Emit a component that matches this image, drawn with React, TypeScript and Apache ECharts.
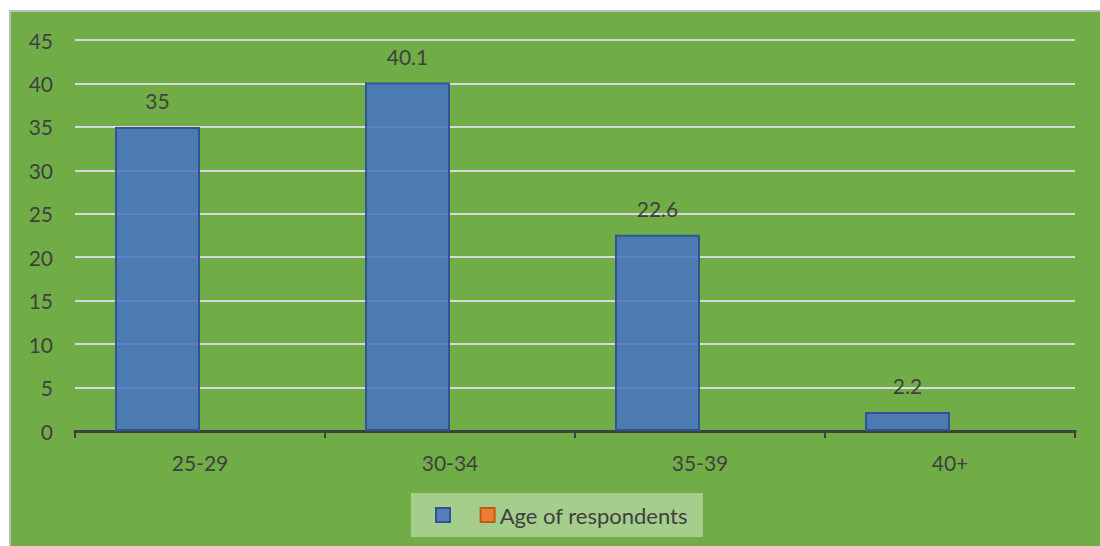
import React, { useEffect, useRef } from "react";
import * as echarts from "echarts";

// Age groups and share of respondents (%)
const categories = ["25-29", "30-34", "35-39", "40+"];
const respondents = [35, 40.1, 22.6, 2.2];
const secondSeries: (number | null)[] = [null, null, null, null];
const yTicks = { min: 0, max: 45, interval: 5 };

const FONT = "Lato, 'Open Sans', sans-serif";
const TEXT = "#404040";

export default function App() {
  const ref = useRef<HTMLDivElement>(null);

  useEffect(() => {
    if (!ref.current) return;
    const chart = echarts.init(ref.current, undefined, { renderer: "svg" });
    chart.setOption({
      animation: false,
      backgroundColor: "#70AD47",
      textStyle: { fontFamily: FONT },
      grid: { left: 64, right: 25, top: 28, bottom: 115 },
      legend: {
        left: 400,
        top: 481,
        orient: "horizontal",
        backgroundColor: "#A5CD8B",
        padding: [11, 15, 11, 24],
        itemWidth: 14,
        itemHeight: 14,
        itemGap: 19,
        icon: "rect",
        textStyle: { color: TEXT, fontSize: 22, fontFamily: FONT },
        data: [" ", "Age of respondents"],
      },
      xAxis: {
        type: "category",
        data: categories,
        axisLine: { lineStyle: { color: TEXT, width: 3 } },
        axisTick: { show: true, length: 7, lineStyle: { color: TEXT, width: 2 } },
        axisLabel: { color: TEXT, fontSize: 21, margin: 21, fontFamily: FONT },
        splitLine: { show: false },
      },
      yAxis: {
        type: "value",
        min: yTicks.min,
        max: yTicks.max,
        interval: yTicks.interval,
        axisLine: { show: false },
        axisTick: { show: false },
        axisLabel: { color: TEXT, fontSize: 21, margin: 22, fontFamily: FONT },
        splitLine: { lineStyle: { color: "#D9D9D9", width: 2 } },
      },
      series: [
        {
          name: " ",
          type: "bar",
          data: respondents,
          barGap: "0%",
          barCategoryGap: "32%",
          itemStyle: {
            color: "rgba(68,114,196,0.85)",
            borderColor: "#2F5597",
            borderWidth: 2,
          },
          label: {
            show: true,
            position: "top",
            distance: 16,
            color: TEXT,
            fontSize: 21,
            fontFamily: FONT,
          },
        },
        {
          name: "Age of respondents",
          type: "bar",
          data: secondSeries,
          itemStyle: {
            color: "#ED7D31",
            borderColor: "#C55A11",
            borderWidth: 2,
          },
        },
      ],
    });
    return () => chart.dispose();
  }, []);

  return (
    <div
      style={{
        position: "fixed",
        left: 0,
        top: 0,
        width: 1100,
        height: 546,
        background: "#ffffff",
      }}
    >
      <div
        style={{
          position: "absolute",
          left: 9,
          top: 10,
          borderLeft: "2px solid #BFBFBF",
          borderTop: "2px solid #BFBFBF",
        }}
      >
        <div ref={ref} style={{ width: 1089, height: 534 }} />
      </div>
    </div>
  );
}
